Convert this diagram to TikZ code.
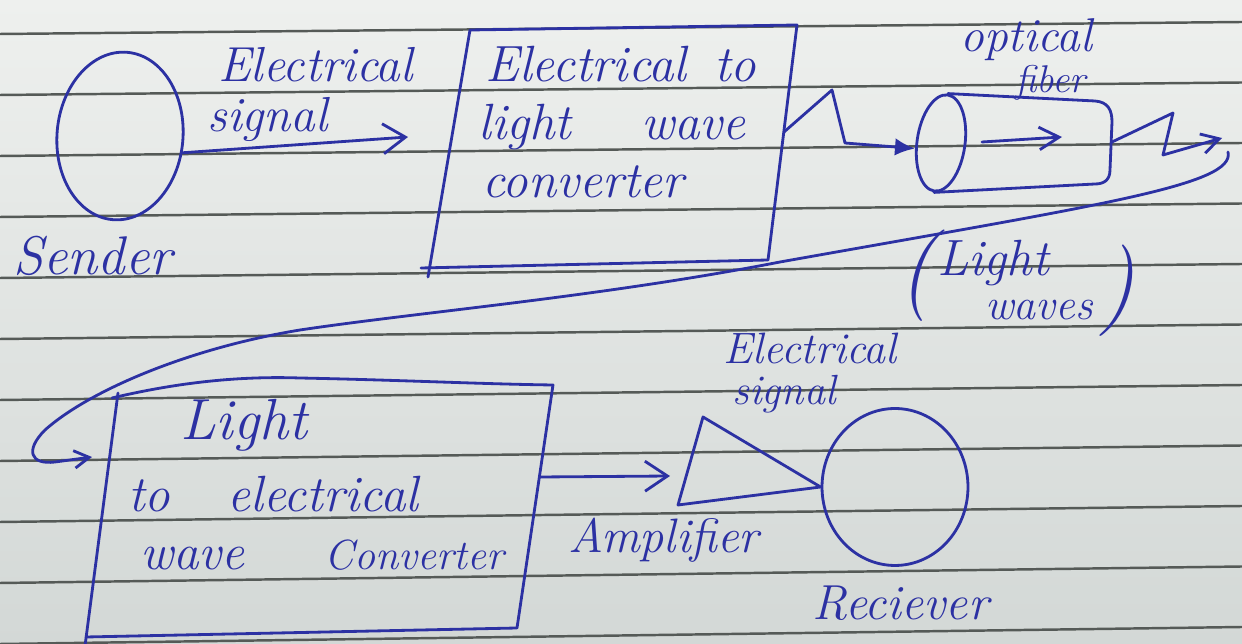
\documentclass[tikz,border=0pt]{standalone}
\usepackage{fontspec}
\usetikzlibrary{arrows.meta,shapes.geometric}
\definecolor{ink}{HTML}{2C31A3}
\definecolor{rulecol}{HTML}{555A57}
\definecolor{papertop}{HTML}{EEF0EE}
\definecolor{paperbot}{HTML}{D3D8D6}
\newcommand\handsize[1]{\fontsize{#1}{#1}\selectfont\itshape}
\begin{document}
\begin{tikzpicture}[x=0.02cm,y=-0.02cm,
  pen/.style={draw=ink,line width=1.6pt,line cap=round,line join=round},
  barb/.style={pen,-{Straight Barb[length=0.45cm,width=0.6cm]}},
  smallbarb/.style={pen,-{Straight Barb[length=0.35cm,width=0.4cm]}},
  script/.style={text=ink,inner sep=0pt,anchor=base west},
  ruled/.style={draw=rulecol,line width=1.4pt}]
\useasboundingbox (0,0) rectangle (1242,644);
% lined paper
\shade[top color=papertop,bottom color=paperbot] (0,0) rectangle (1242,644);
\foreach \k in {0,...,10} \draw[ruled] (0,{34+61*\k}) -- (1242,{22+60.5*\k});

% sender
\node[pen,ellipse,minimum width=2.52cm,minimum height=3.36cm,inner sep=0pt,rotate=-5] (sender) at (120,136) {};
\node[script,font={\handsize{31}}] (senderlbl) at (13,275) {Sender};
\coordinate (sigtip) at (408,137);
\draw[barb] (sender.-10) -- (sigtip);
\node[script,font={\handsize{28}}] (sig1a) at (218,82) {Electrical};
\node[script,font={\handsize{28}}] (sig1b) at (207,132) {signal};

% electrical to light converter
\coordinate (b1tl) at (470,30);
\coordinate (b1tr) at (797,25);
\coordinate (b1br) at (768,260);
\coordinate (b1bl) at (421,268);
\coordinate (b1foot) at (428,277);
\draw[pen] (b1foot) -- (b1tl) -- (b1tr) -- (b1br) -- (b1bl);
\node[script,font={\handsize{29}}] (e2l1) at (485,82) {Electrical\hspace{0.55cm}to};
\node[script,font={\handsize{29}}] (e2l2) at (478,140) {light\hspace{1.4cm}wave};
\node[script,font={\handsize{29}}] (e2l3) at (482,198) {converter};

% optical fiber
\node[pen,ellipse,minimum width=0.96cm,minimum height=1.94cm,inner sep=0pt,rotate=-8] (fiberface) at (941,143) {};
\draw[pen] (fiberface.north) -- (1095,101) .. controls (1108,102) and (1112,110) .. (1112,122)
  -- (1110,170) .. controls (1110,180) and (1104,184) .. (1095,184) -- (fiberface.south);
\coordinate (glowA) at (982,142);
\coordinate (glowB) at (1062,137);
\draw[pen,-{Straight Barb[length=0.4cm,width=0.45cm]}] (glowA) -- (glowB);
\node[script,font={\handsize{27}}] (optlbl) at (960,52) {optical};
\node[script,font={\handsize{22}}] (fiblbl) at (1015,93) {fiber};

% light pulse into the fiber
\coordinate (zz1a) at (784,132);
\coordinate (zz1b) at (832,90);
\coordinate (zz1c) at (845,143);
\draw[pen,-{Latex[length=0.4cm,width=0.35cm]}] (zz1a) -- (zz1b) -- (zz1c) -- (fiberface.200);

% light pulse out of the fiber
\coordinate (fibend) at (1112,142);
\coordinate (zz2b) at (1173,113);
\coordinate (zz2c) at (1163,155);
\coordinate (wavetip) at (1222,138);
\draw[smallbarb] (fibend) -- (zz2b) -- (zz2c) -- (wavetip);

% (Light waves)
\node[script,font={\handsize{52}}] (lwopen) at (898,299) {(};
\node[script,font={\handsize{29}}] (lw1) at (937,276) {Light};
\node[script,font={\handsize{25}}] (lw2) at (985,320) {waves};
\node[script,font={\handsize{52}}] (lwclose) at (1098,314) {)};

% light to electrical converter
\coordinate (b2tl) at (118,393);
\coordinate (b2tr) at (553,385);
\coordinate (b2br) at (517,628);
\coordinate (b2bl) at (86,637);
\coordinate (b2foot) at (85,646);
\draw[pen] (b2foot) -- (b2tl);
\draw[pen] (112,398) .. controls (180,382) and (240,376) .. (300,378)
  .. controls (400,380) and (480,384) .. (b2tr) -- (b2br) -- (b2bl);
\node[script,font={\handsize{33}}] (l2e1) at (180,440) {Light};
\node[script,font={\handsize{29}}] (l2e2) at (128,512) {to\hspace{1.15cm}electrical};
\node[script,font={\handsize{29}}] (l2e3) at (140,570) {wave\hspace{1.6cm}{\fontsize{24}{24}\selectfont Converter}};

% return path of the light
\coordinate (retA) at (1228,152);
\coordinate (b2in) at (92,457);
\draw[pen,-{Straight Barb[length=0.3cm,width=0.35cm]}] (retA)
  .. controls (1236,185) and (1100,205) .. (780,262)
  .. controls (600,297) and (420,312) .. (300,330)
  .. controls (190,348) and (90,390) .. (45,430)
  .. controls (25,450) and (30,465) .. (55,462) -- (b2in);

% amplifier and receiver
\node[pen,ellipse,minimum width=2.92cm,minimum height=3.14cm,inner sep=0pt] (receiver) at (895,487) {};
\coordinate (amptop) at (703,417);
\coordinate (ampbot) at (678,505);
\draw[pen] (amptop) -- (receiver.west) -- (ampbot) -- cycle;
\coordinate (b2out) at (540,477);
\coordinate (ampin) at (670,476);
\draw[barb] (b2out) -- (ampin);
\node[script,font={\handsize{25}}] (sig2a) at (723,364) {Electrical};
\node[script,font={\handsize{24}}] (sig2b) at (732,405) {signal};
\node[script,font={\handsize{27.5}}] (amplbl) at (568,553) {Amplifier};
\node[script,font={\handsize{28}}] (rcvlbl) at (812,620) {Reciever};
\end{tikzpicture}
\end{document}
